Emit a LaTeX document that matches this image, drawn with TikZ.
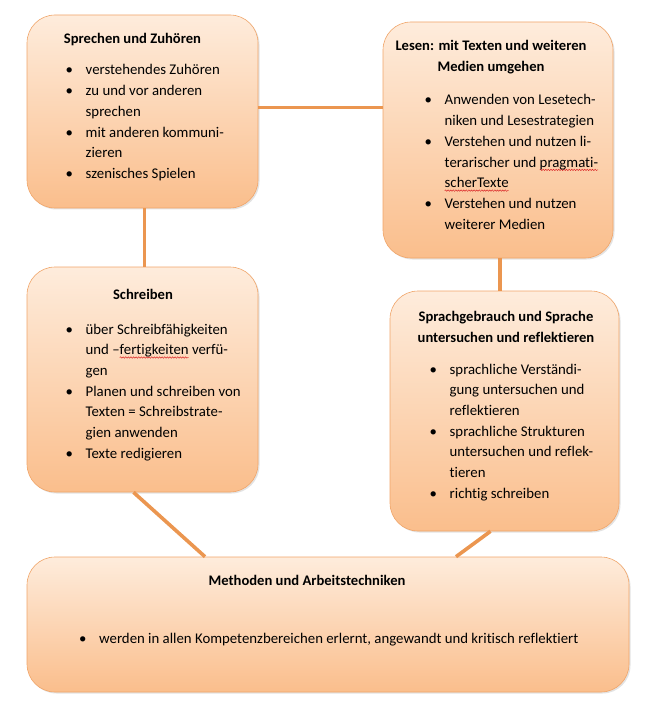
\documentclass[tikz,border=0pt]{standalone}
\usepackage{fontspec}
\setmainfont{Carlito}[Ligatures={TeX,NoCommon}]
\usepackage{tikz}
\usetikzlibrary{shadows,positioning,decorations.pathmorphing}
\definecolor{boxtop}{RGB}{254,236,220}
\definecolor{boxbottom}{RGB}{250,190,140}
\definecolor{boxline}{RGB}{240,165,105}
\definecolor{linkorange}{RGB}{235,150,80}
\definecolor{spellred}{RGB}{220,40,40}
\newlength\spellw
\newcommand\bul{\hbox to 20pt{\textbullet\hfil}}
\newcommand\spellwave[1]{\settowidth\spellw{#1}\rlap{\raisebox{-2.8pt}{\tikz[overlay]\draw[spellred,line width=0.5pt,decorate,decoration={snake,amplitude=0.7pt,segment length=2.6pt}] (0pt,0pt) -- (\spellw,0pt);}}#1}
\tikzset{
  areabox/.style={draw=boxline, line width=0.6pt, rounded corners=28pt,
    top color=boxtop, bottom color=boxbottom,
    drop shadow={opacity=0.22, shadow xshift=1.5pt, shadow yshift=-1.5pt}},
  link/.style={draw=linkorange, line width=3.6pt},
  boxtitle/.style={inner sep=0pt, align=center, font=\fontsize{14.6}{20.5}\selectfont\bfseries},
  boxlist/.style={inner sep=0pt, anchor=base west, font=\fontsize{14.8}{20.7}\selectfont}
}
\begin{document}
\begin{tikzpicture}[x=1pt,y=1pt]
 \useasboundingbox (0,0) rectangle (645,-703);
 % the five competence areas
 \node[areabox, minimum width=231pt, minimum height=193pt] (sprechen) at (142.5,-111.5) {};
 \node[areabox, minimum width=230pt, minimum height=236pt] (lesen) at (498,-140) {};
 \node[areabox, minimum width=231pt, minimum height=225pt] (schreiben) at (142.5,-379.5) {};
 \node[areabox, minimum width=229pt, minimum height=240pt] (sprache) at (504.5,-411) {};
 \node[areabox, minimum width=602pt, minimum height=135pt] (methoden) at (328,-624.5) {};
 % links between the areas
 \draw[link] ([yshift=4pt]sprechen.east) -- ([yshift=4pt]sprechen.east -| lesen.west);
 \draw[link] ([xshift=2pt]sprechen.south) -- ([xshift=2pt]schreiben.north);
 \draw[link] ([xshift=2pt]lesen.south) -- ([xshift=2pt]lesen.south |- sprache.north);
 \draw[link] ([xshift=-9pt]schreiben.south) -- ([xshift=-123pt]methoden.north);
 \draw[link] ([xshift=-14pt]sprache.south) -- ([xshift=128pt]methoden.north);
 % Sprechen und Zuhoeren
 \node[boxtitle] (sprechen-title) at (132.5,-40) {Sprechen und Zuhören};
 \node[boxlist] (sprechen-list) at (65.5,-75) {\begin{tabular}[t]{@{}l@{}l@{}}
   \bul & verstehendes Zuhören\\
   \bul & zu und vor anderen\\
        & sprechen\\
   \bul & mit anderen kommuni-\\
        & zieren\\
   \bul & szenisches Spielen
 \end{tabular}};
 % Lesen
 \node[boxtitle] (lesen-title) at (491,-57) {Lesen: mit Texten und weiteren\\Medien umgehen};
 \node[boxlist] (lesen-list) at (424.5,-105) {\begin{tabular}[t]{@{}l@{}l@{}}
   \bul & Anwenden von Lesetech-\\
        & niken und Lesestrategien\\
   \bul & Verstehen und nutzen li-\\
        & terarischer und \spellwave{pragmati-}\\
        & \spellwave{scherTexte}\\
   \bul & Verstehen und nutzen\\
        & weiterer Medien
 \end{tabular}};
 % Schreiben
 \node[boxtitle] (schreiben-title) at (143,-294) {Schreiben};
 \node[boxlist] (schreiben-list) at (65.5,-334) {\begin{tabular}[t]{@{}l@{}l@{}}
   \bul & über Schreibfähigkeiten\\
        & und --\spellwave{fertigkeiten} verfü-\\
        & gen\\
   \bul & Planen und schreiben von\\
        & Texten = Schreibstrate-\\
        & gien anwenden\\
   \bul & Texte redigieren
 \end{tabular}};
 % Sprachgebrauch
 \node[boxtitle] (sprache-title) at (506,-327) {Sprachgebrauch und Sprache\\untersuchen und reflektieren};
 \node[boxlist] (sprache-list) at (429.5,-374) {\begin{tabular}[t]{@{}l@{}l@{}}
   \bul & sprachliche Verständi-\\
        & gung untersuchen und\\
        & reflektieren\\
   \bul & sprachliche Strukturen\\
        & untersuchen und reflek-\\
        & tieren\\
   \bul & richtig schreiben
 \end{tabular}};
 % Methoden
 \node[boxtitle] (methoden-title) at (307,-580) {Methoden und Arbeitstechniken};
 \node[boxlist] (methoden-list) at (79,-643) {\begin{tabular}[t]{@{}l@{}l@{}}
   \bul & werden in allen Kompetenzbereichen erlernt, angewandt und kritisch reflektiert
 \end{tabular}};
\end{tikzpicture}
\end{document}
